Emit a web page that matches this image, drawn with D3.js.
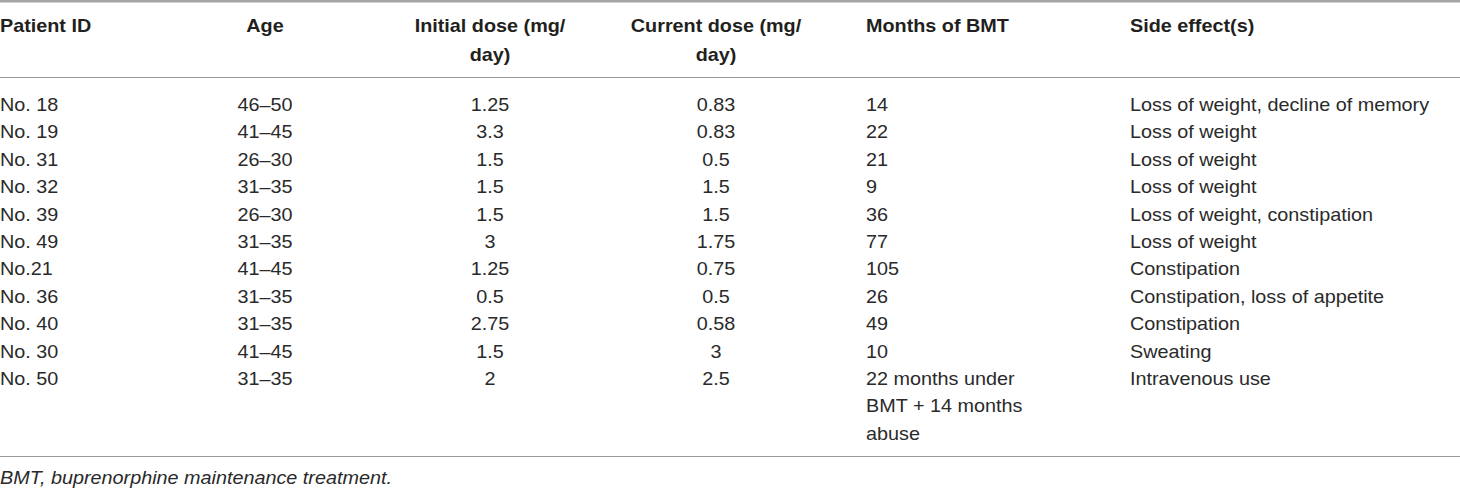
<!DOCTYPE html>
<html lang="en">
<head>
  <title>BMT side effects table</title>
  <script type="text/javascript" src="https://cdnjs.cloudflare.com/ajax/libs/d3/7.8.5/d3.min.js"></script>
  <style>
    body { margin: 0; background: #fff; }
    svg text { font-family: "Liberation Sans", Arial, sans-serif; }
  </style>
</head>
<body>
  <script type="text/javascript">
    var width = 1460;
    var height = 488;

    // table data
    var headers = ["Patient ID", "Age", "Initial dose (mg/day)", "Current dose (mg/day)", "Months of BMT", "Side effect(s)"];
    var patientIds = ["No. 18", "No. 19", "No. 31", "No. 32", "No. 39", "No. 49", "No.21", "No. 36", "No. 40", "No. 30", "No. 50"];
    var ages = ["46–50", "41–45", "26–30", "31–35", "26–30", "31–35", "41–45", "31–35", "31–35", "41–45", "31–35"];
    var initialDose = ["1.25", "3.3", "1.5", "1.5", "1.5", "3", "1.25", "0.5", "2.75", "1.5", "2"];
    var currentDose = ["0.83", "0.83", "0.5", "1.5", "1.5", "1.75", "0.75", "0.5", "0.58", "3", "2.5"];
    var monthsBMT = ["14", "22", "21", "9", "36", "77", "105", "26", "49", "10", "22 months under BMT + 14 months abuse"];
    var sideEffects = ["Loss of weight, decline of memory", "Loss of weight", "Loss of weight", "Loss of weight",
      "Loss of weight, constipation", "Loss of weight", "Constipation", "Constipation, loss of appetite",
      "Constipation", "Sweating", "Intravenous use"];
    var footnote = "BMT, buprenorphine maintenance treatment.";

    var columns = [patientIds, ages, initialDose, currentDose, monthsBMT, sideEffects];

    var fontSize = 18;
    var stretch = 1.1;     // reference type is wider than Liberation Sans
    var lineStep = 27.4;

    // column anchors
    var colX = d3.scaleOrdinal().domain(d3.range(6)).range([0, 265, 490, 716, 866, 1130]);
    var colAnchor = d3.scaleOrdinal().domain(d3.range(6)).range(["start", "middle", "middle", "middle", "start", "start"]);
    var headerWrap = [999, 999, 165, 185, 999, 999];
    var cellWrap = [999, 999, 999, 999, 160, 999];

    // row baselines
    var rowY = d3.scaleLinear().domain([0, patientIds.length - 1]).range([111, 111 + lineStep * (patientIds.length - 1)]);

    var svg = d3.select("body").append("svg")
      .attr("width", width)
      .attr("height", height);

    // measure helper for wrapping
    var probe = svg.append("text").attr("font-size", fontSize).attr("visibility", "hidden");
    function wrap(str, maxW, weight) {
      probe.attr("font-weight", weight);
      var words = str.split(" ");
      var lines = [];
      var cur = "";
      words.forEach(function (w) {
        var test = cur ? cur + " " + w : w;
        probe.text(test);
        if (cur && probe.node().getComputedTextLength() * stretch > maxW) {
          lines.push(cur);
          cur = w;
        } else {
          cur = test;
        }
      });
      if (cur) lines.push(cur);
      return lines;
    }
    function wrapHeader(str, maxW) {
      // break after the slash, like the typeset header
      if (maxW < 999 && str.indexOf("/") > 0) {
        var i = str.indexOf("/") + 1;
        return [str.slice(0, i), str.slice(i)];
      }
      return [str];
    }

    function putText(g, x, y, txt, anchor) {
      g.append("text")
        .attr("transform", "translate(" + x + "," + y + ") scale(" + stretch + ",1)")
        .attr("text-anchor", anchor)
        .text(txt);
    }

    // rules
    svg.append("rect").attr("x", 0).attr("y", 0).attr("width", width).attr("height", 2.5).attr("fill", "#a6a6a6");
    [77.5, 456.5].forEach(function (y) {
      svg.append("line").attr("x1", 0).attr("x2", width).attr("y1", y).attr("y2", y)
        .attr("stroke", "#9a9a9a").attr("stroke-width", 1.2);
    });

    // header
    var head = svg.append("g").attr("font-size", fontSize).attr("font-weight", "bold").attr("fill", "#231f20");
    headers.forEach(function (h, c) {
      wrapHeader(h, headerWrap[c]).forEach(function (line, k) {
        putText(head, colX(c), 32 + k * 29, line, colAnchor(c));
      });
    });

    // body cells
    var bodyG = svg.append("g").attr("font-size", fontSize).attr("fill", "#2a2a2a");
    columns.forEach(function (col, c) {
      col.forEach(function (val, r) {
        wrap(val, cellWrap[c], "normal").forEach(function (line, k) {
          putText(bodyG, colX(c), rowY(r) + k * lineStep, line, colAnchor(c));
        });
      });
    });

    // footnote
    svg.append("text")
      .attr("transform", "translate(0,484) scale(" + stretch + ",1)")
      .attr("font-size", fontSize)
      .attr("font-style", "italic")
      .attr("fill", "#2a2a2a")
      .text(footnote);

    probe.remove();
  </script>
</body>
</html>
